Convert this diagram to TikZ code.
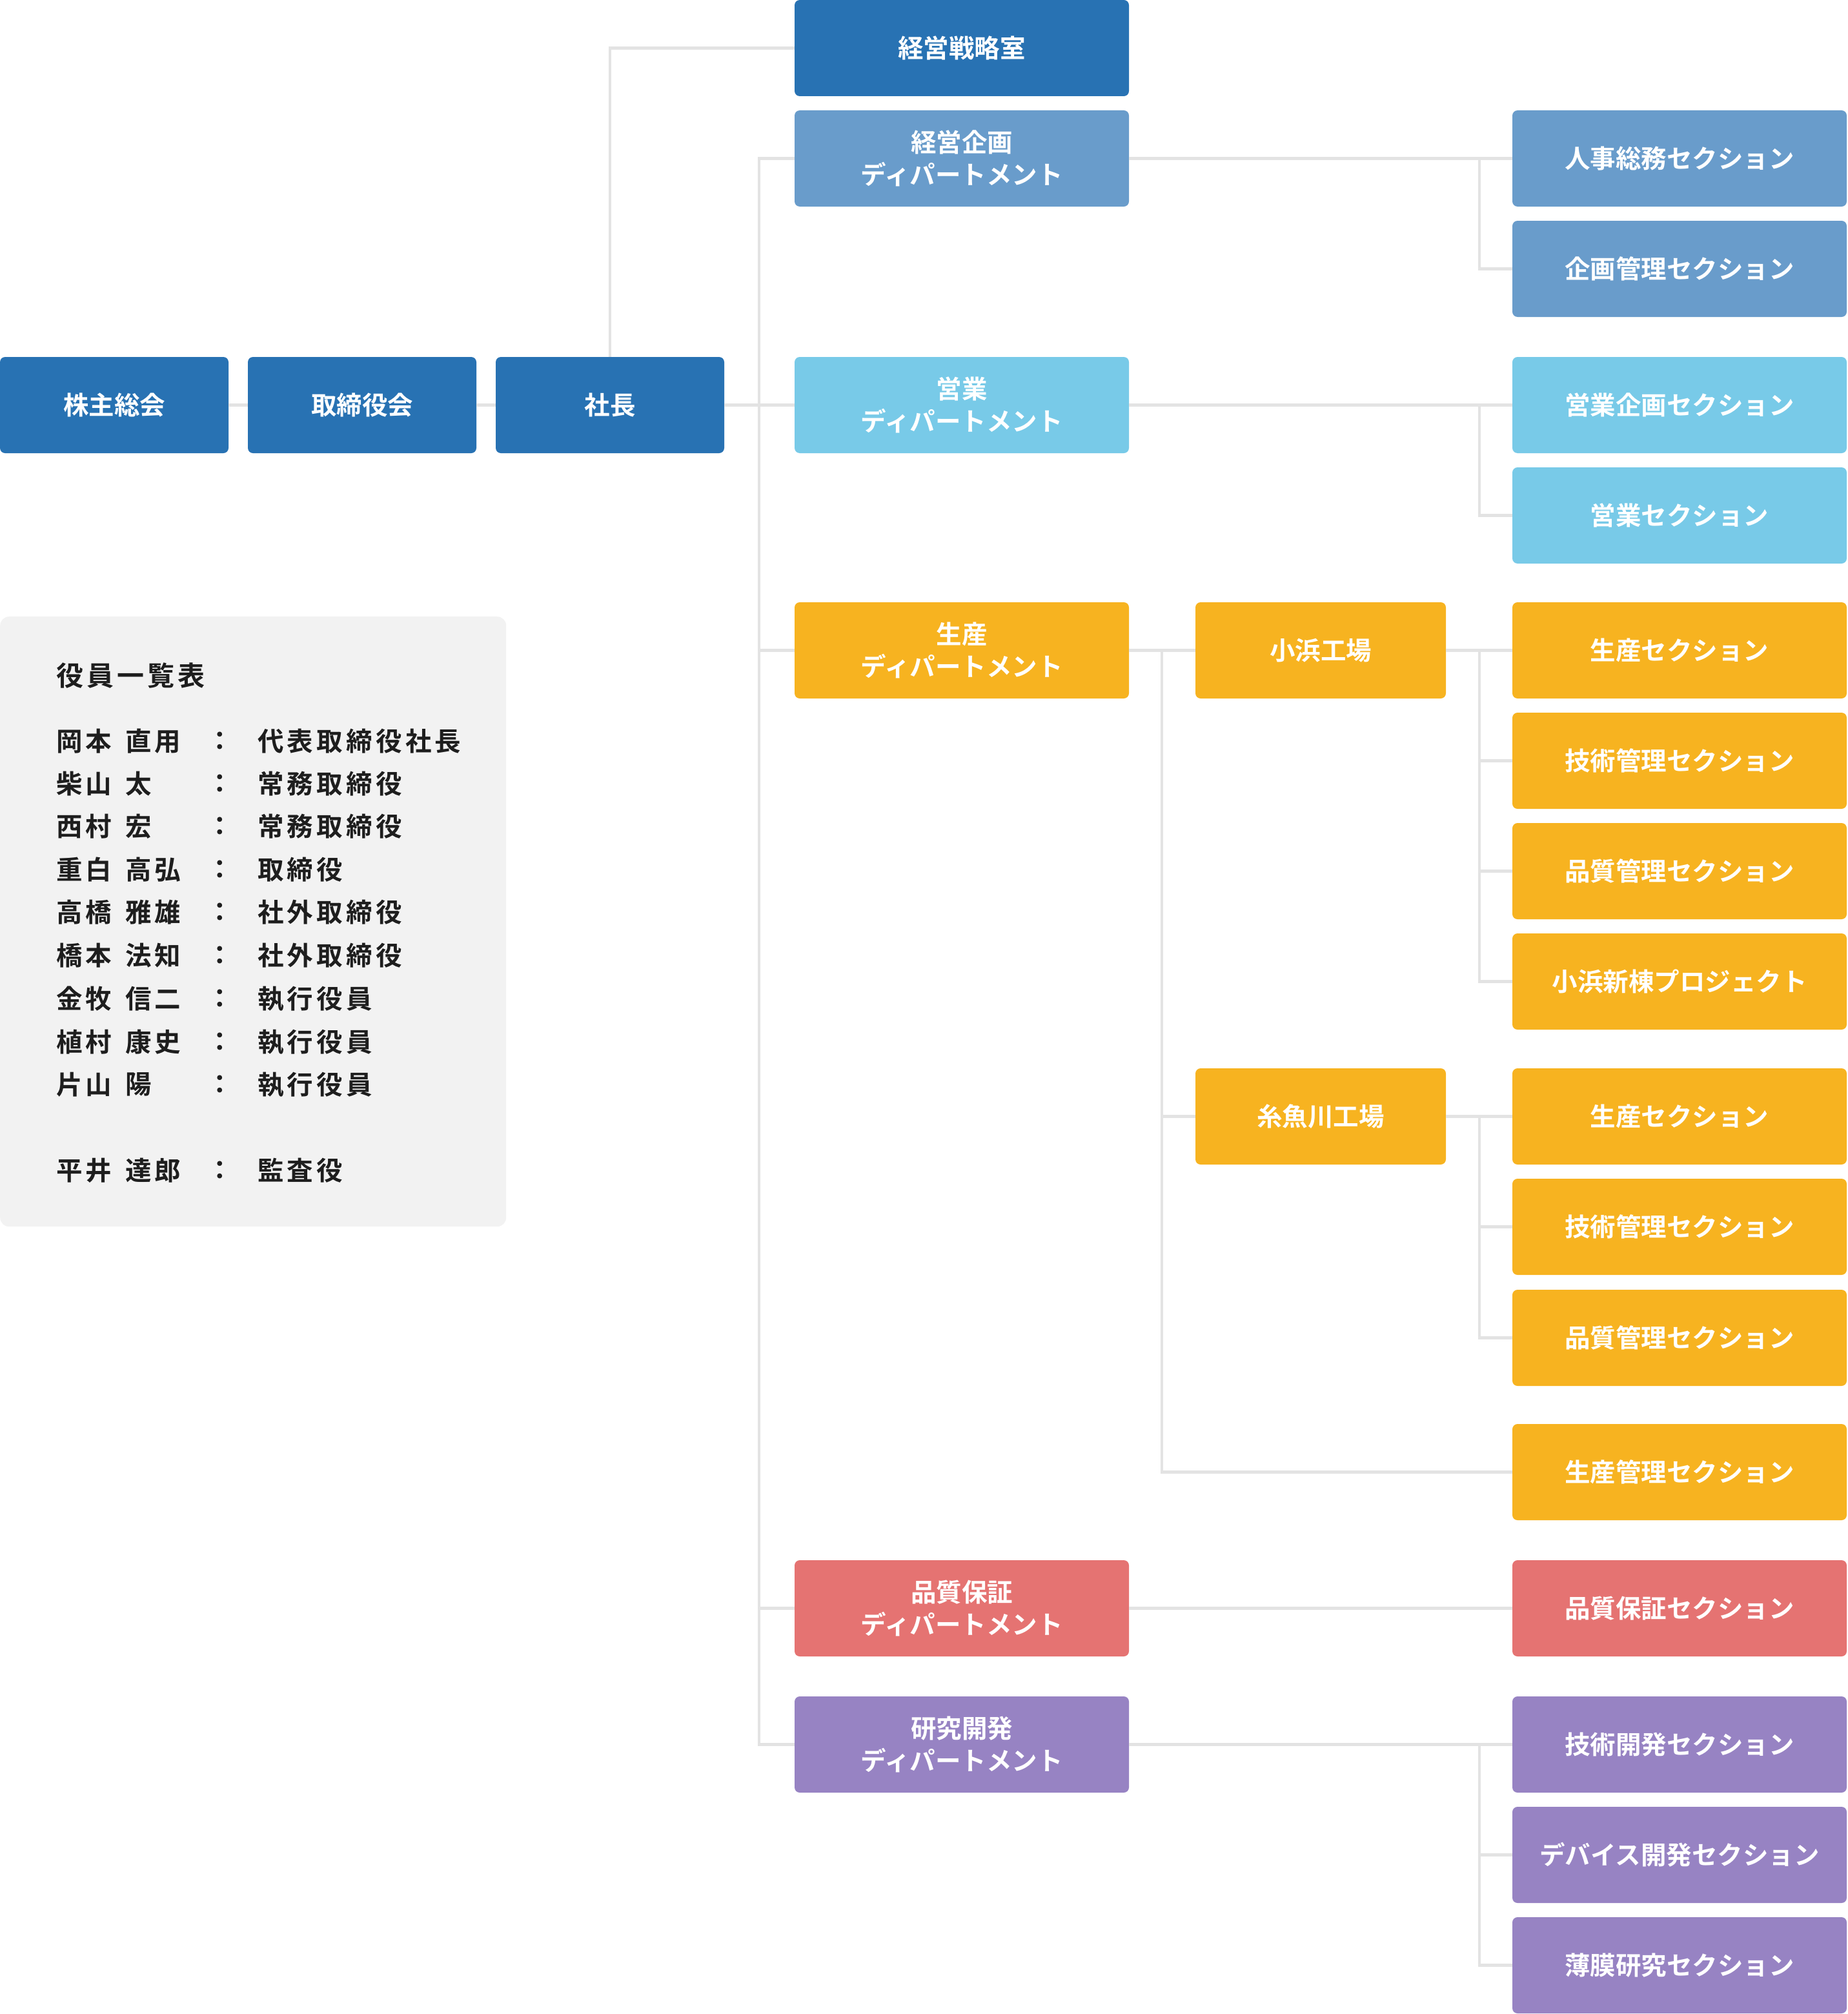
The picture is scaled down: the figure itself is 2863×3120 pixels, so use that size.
\documentclass[tikz,border=0pt]{standalone}
\usepackage{fontspec}
\setmainfont{Noto Sans CJK JP}
\newfontfamily\jpbold{Noto Sans CJK JP Bold}
\definecolor{cdark}{HTML}{2872B3}
\definecolor{csteel}{HTML}{699CCB}
\definecolor{csky}{HTML}{78CAE8}
\definecolor{cyellow}{HTML}{F7B320}
\definecolor{cred}{HTML}{E57372}
\definecolor{cpurple}{HTML}{9783C3}
\definecolor{clegend}{HTML}{F2F2F2}
\definecolor{cline}{HTML}{E3E3E3}
\definecolor{ctext}{HTML}{1E1E1E}
\newcommand{\boxfont}{\fontsize{39.5}{50}\selectfont\jpbold}
\newcommand{\legfont}{\fontsize{40.5}{46}\selectfont\jpbold\addfontfeatures{LetterSpace=13}}
\newcommand{\legtitlefont}{\fontsize{42}{48}\selectfont\jpbold\addfontfeatures{LetterSpace=12}}
\tikzset{
  orgbox/.style={rounded corners=8pt, text=white, align=center, inner sep=0pt, minimum height=149pt, font=\boxfont},
  topbox/.style={orgbox, fill=cdark, minimum width=354pt},
  deptbox/.style={orgbox, minimum width=518pt},
  factbox/.style={orgbox, fill=cyellow, minimum width=388pt},
  secbox/.style={orgbox, minimum width=518pt},
  conn/.style={draw=cline, line width=4.5pt},
  legtxt/.style={anchor=west, inner sep=0pt, text=ctext, font=\legfont},
  legcolon/.style={anchor=center, inner sep=0pt, text=ctext, font=\legfont},
}
\begin{document}
\begin{tikzpicture}[x=1pt,y=-1pt]
\useasboundingbox (0,0) rectangle (2863,3120);
% legend
\node[fill=clegend, rounded corners=14pt, minimum width=784pt, minimum height=945pt, anchor=north west, inner sep=0pt] (legend) at (0,955) {};
\node[legtxt, font=\legtitlefont] (lt) at (87,1047) {役員一覧表};
\foreach \y/\fa/\gi/\ro [count=\i] in {1148/岡本/直用/代表取締役社長, 1214/柴山/太/常務取締役, 1280/西村/宏/常務取締役, 1347/重白/高弘/取締役, 1413/高橋/雅雄/社外取締役, 1480/橋本/法知/社外取締役, 1547/金牧/信二/執行役員, 1614/植村/康史/執行役員, 1680/片山/陽/執行役員, 1813/平井/達郎/監査役}{
  \node[legtxt] (lf\i) at (87,\y) {\fa};
  \node[legtxt] (lg\i) at (194,\y) {\gi};
  \node[legcolon] (lc\i) at (341,\y) {：};
  \node[legtxt] (lr\i) at (399,\y) {\ro};
}
% top row
\node[topbox] (kabu) at (177,627.5) {株主総会};
\node[topbox] (tori) at (561,627.5) {取締役会};
\node[topbox] (shacho) at (945,627.5) {社長};
% departments
\node[deptbox, fill=cdark] (senryaku) at (1490,74.5) {経営戦略室};
\node[deptbox, fill=csteel] (keiki) at (1490,245.5) {経営企画\\ディパートメント};
\node[deptbox, fill=csky] (eigyo) at (1490,627.5) {営業\\ディパートメント};
\node[deptbox, fill=cyellow] (seisan) at (1490,1007.5) {生産\\ディパートメント};
\node[deptbox, fill=cred] (hinshitsu) at (1490,2491.5) {品質保証\\ディパートメント};
\node[deptbox, fill=cpurple] (kenkyu) at (1490,2702.5) {研究開発\\ディパートメント};
% factories
\node[factbox] (obama) at (2046,1007.5) {小浜工場};
\node[factbox] (itoi) at (2046,1729.5) {糸魚川工場};
% sections
\node[secbox, fill=csteel] (jinji) at (2602,245.5) {人事総務セクション};
\node[secbox, fill=csteel] (kikan) at (2602,416.5) {企画管理セクション};
\node[secbox, fill=csky] (eika) at (2602,627.5) {営業企画セクション};
\node[secbox, fill=csky] (eisec) at (2602,798.5) {営業セクション};
\node[secbox, fill=cyellow] (ob1) at (2602,1007.5) {生産セクション};
\node[secbox, fill=cyellow] (ob2) at (2602,1178.5) {技術管理セクション};
\node[secbox, fill=cyellow] (ob3) at (2602,1349.5) {品質管理セクション};
\node[secbox, fill=cyellow] (ob4) at (2602,1520.5) {小浜新棟プロジェクト};
\node[secbox, fill=cyellow] (it1) at (2602,1729.5) {生産セクション};
\node[secbox, fill=cyellow] (it2) at (2602,1900.5) {技術管理セクション};
\node[secbox, fill=cyellow] (it3) at (2602,2072.5) {品質管理セクション};
\node[secbox, fill=cyellow] (kanri) at (2602,2280.5) {生産管理セクション};
\node[secbox, fill=cred] (hs) at (2602,2491.5) {品質保証セクション};
\node[secbox, fill=cpurple] (gk) at (2602,2702.5) {技術開発セクション};
\node[secbox, fill=cpurple] (dv) at (2602,2873.5) {デバイス開発セクション};
\node[secbox, fill=cpurple] (hm) at (2602,3044.5) {薄膜研究セクション};
% trunk coordinates
\coordinate (tx) at (1176,0);
\coordinate (fx) at (1800,0);
\coordinate (sx) at (2292,0);
% connectors
\draw[conn] (kabu.east) -- (tori.west);
\draw[conn] (tori.east) -- (shacho.west);
\draw[conn] (shacho.east) -- (eigyo.west);
\draw[conn] (shacho.north) |- (senryaku.west);
\draw[conn] (keiki.west) -- (tx |- keiki.west) |- (kenkyu.west);
\draw[conn] (tx |- seisan.west) -- (seisan.west);
\draw[conn] (tx |- hinshitsu.west) -- (hinshitsu.west);
\draw[conn] (keiki.east) -- (jinji.west);
\draw[conn] (sx |- jinji.west) |- (kikan.west);
\draw[conn] (eigyo.east) -- (eika.west);
\draw[conn] (sx |- eika.west) |- (eisec.west);
\draw[conn] (seisan.east) -- (obama.west);
\draw[conn] (fx |- obama.west) |- (kanri.west);
\draw[conn] (fx |- itoi.west) -- (itoi.west);
\draw[conn] (obama.east) -- (ob1.west);
\draw[conn] (sx |- ob1.west) |- (ob4.west);
\draw[conn] (sx |- ob2.west) -- (ob2.west);
\draw[conn] (sx |- ob3.west) -- (ob3.west);
\draw[conn] (itoi.east) -- (it1.west);
\draw[conn] (sx |- it1.west) |- (it3.west);
\draw[conn] (sx |- it2.west) -- (it2.west);
\draw[conn] (hinshitsu.east) -- (hs.west);
\draw[conn] (kenkyu.east) -- (gk.west);
\draw[conn] (sx |- gk.west) |- (hm.west);
\draw[conn] (sx |- dv.west) -- (dv.west);
\end{tikzpicture}
\end{document}
